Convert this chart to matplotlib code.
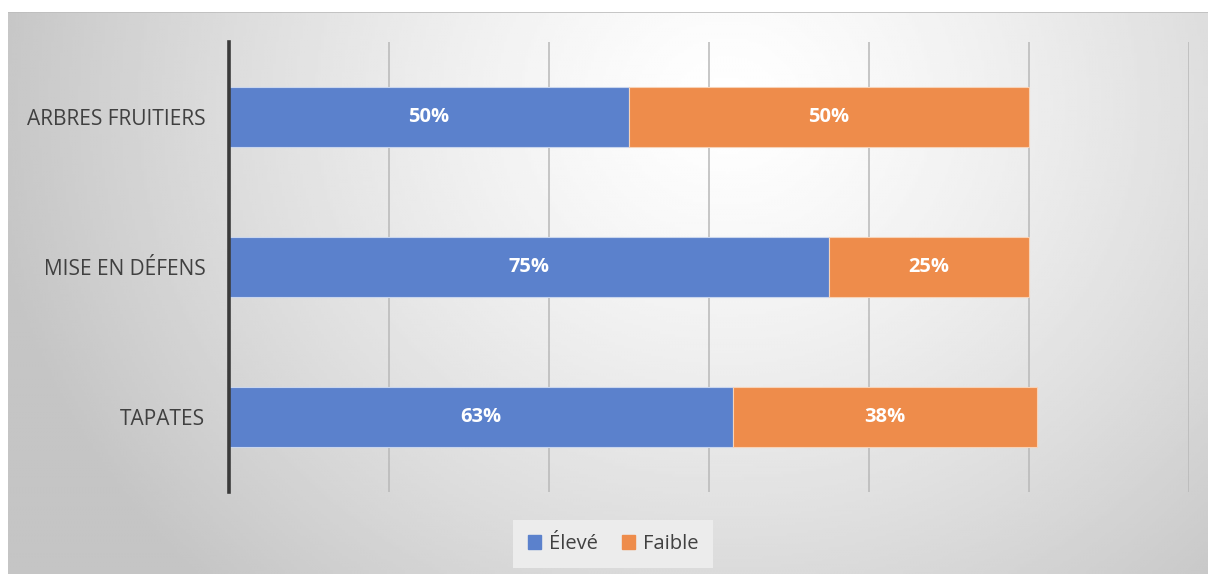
import numpy as np
import matplotlib.pyplot as plt
from matplotlib.patches import Patch

plt.rcParams['font.family'] = ['Open Sans', 'DejaVu Sans']

categories = ['ARBRES FRUITIERS', 'MISE EN DÉFENS', 'TAPATES']
eleve = [50, 75, 63]
faible = [50, 25, 38]
series_names = ['Élevé', 'Faible']
blue = '#5b81cc'
orange = '#ee8c4b'

W, H = 1208, 574
fig = plt.figure(figsize=(W / 100, H / 100), dpi=100)
fig.patch.set_facecolor('white')

# shaded backdrop: light in the upper middle, grey towards the corners
bg = fig.add_axes([8 / W, 0, 1200 / W, 562 / H])
gx, gy = np.meshgrid(np.linspace(0, 1200, 400), np.linspace(0, 562, 200))
d = np.sqrt(((gx - 720) / 1.0) ** 2 + ((gy - 470) * 1.1) ** 2)
shade = np.clip(1.0 - 0.23 * (d / 750) ** 1.3, 0.77, 1.0)
bg.imshow(shade, cmap='gray', vmin=0, vmax=1, aspect='auto', origin='lower',
          extent=[0, 1, 0, 1])
bg.axhline(1, color='#bdbdbd', lw=1.2)
bg.set_axis_off()

ax = fig.add_axes([229 / W, 1 - 492 / H, 960 / W, 450 / H])
ax.patch.set_alpha(0)
y = np.arange(len(categories))
b1 = ax.barh(y, eleve, height=0.4, color=blue, edgecolor='#c9d6ee', linewidth=0.8, zorder=3)
b2 = ax.barh(y, faible, left=eleve, height=0.4, color=orange, edgecolor='#f7d3b8', linewidth=0.8, zorder=3)

for bars, vals, starts in [(b1, eleve, [0] * 3), (b2, faible, eleve)]:
    for yi, v, s in zip(y, vals, starts):
        ax.text(s + v / 2, yi, f'{v}%', ha='center', va='center', color='white',
                fontsize=14.5, fontweight='bold', zorder=4)

ax.set_xlim(0, 120)
ax.set_ylim(2.5, -0.5)
ax.set_xticks(np.arange(0, 121, 20))
ax.set_xticklabels([])
ax.tick_params(axis='x', length=0)
ax.tick_params(axis='y', length=0, pad=17, labelsize=15, labelcolor='#404040')
ax.set_yticks(y)
ax.set_yticklabels(categories)
ax.grid(axis='x', color='#b8b8b8', lw=1.1, zorder=1)
for s in ['top', 'right', 'bottom']:
    ax.spines[s].set_visible(False)
ax.spines['left'].set_color('#3a3a3a')
ax.spines['left'].set_linewidth(2.6)
ax.spines['left'].set_zorder(5)

handles = [Patch(color=blue), Patch(color=orange)]
leg = fig.legend(handles, series_names, loc='center', bbox_to_anchor=(613 / W, 1 - 544 / H),
                 ncol=2, frameon=True, fontsize=14.5, handlelength=0.65, handleheight=0.65,
                 handletextpad=0.4, columnspacing=1.2, borderpad=0.7, fancybox=False)
leg.get_frame().set_facecolor('#ececec')
leg.get_frame().set_edgecolor('none')
leg.get_frame().set_alpha(1)
for t in leg.get_texts():
    t.set_color('#404040')

fig.savefig('out.png', dpi=100)
